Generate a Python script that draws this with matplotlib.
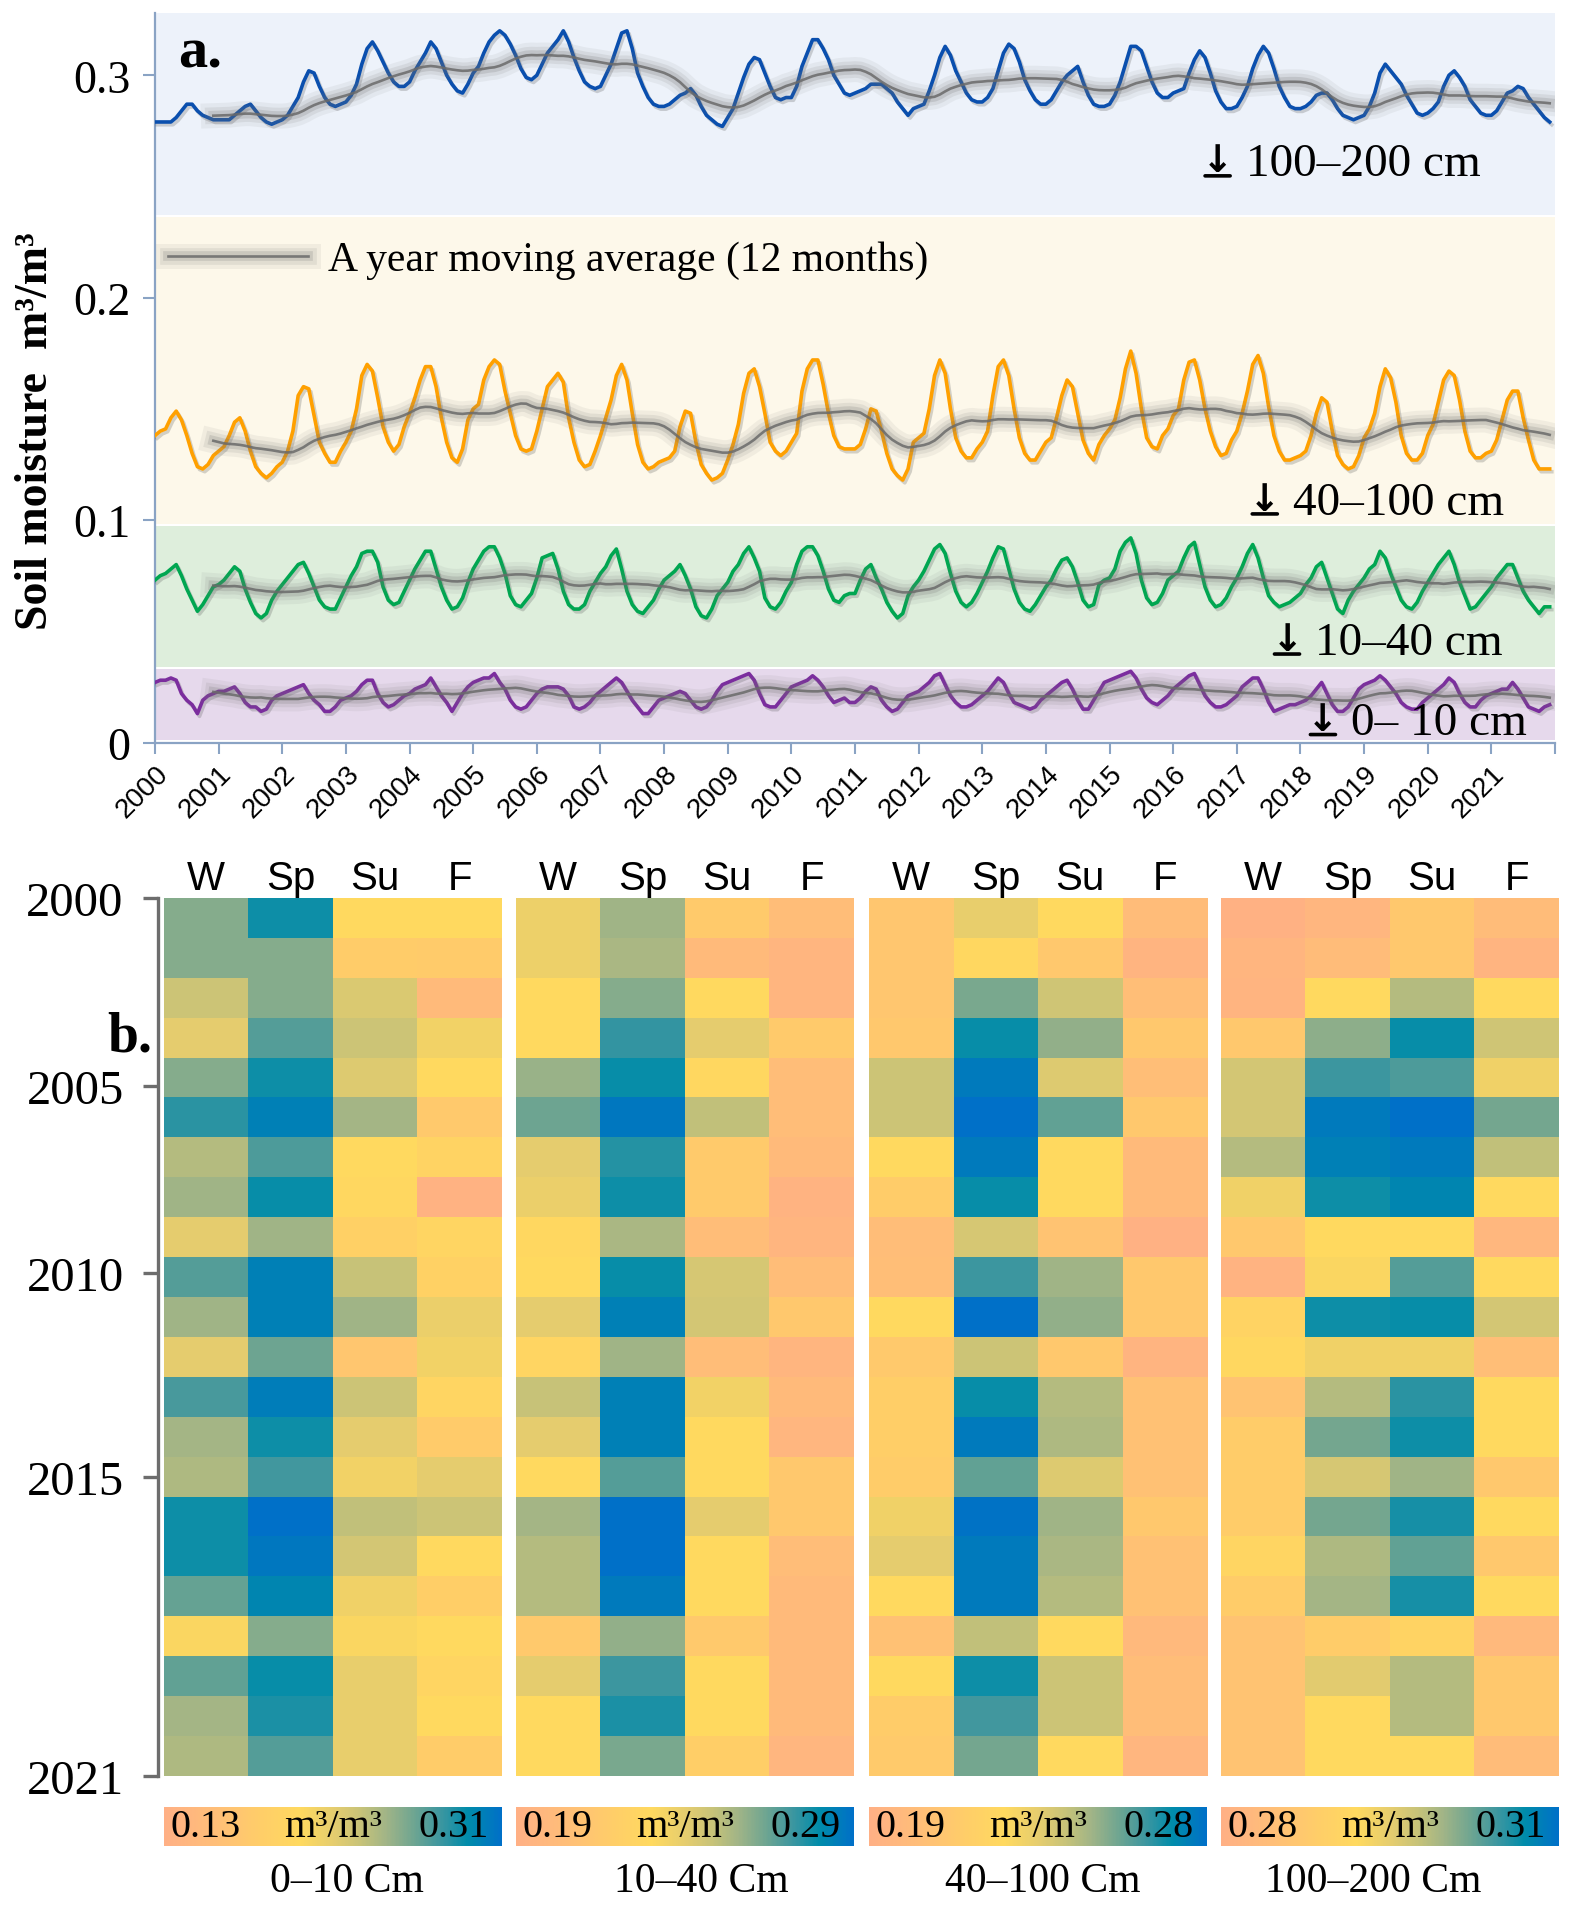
import numpy as np
import pandas as pd
import matplotlib
matplotlib.use("Agg")
import matplotlib.pyplot as plt
from matplotlib import patheffects as pe
from matplotlib.colors import LinearSegmentedColormap

# ---------------- data ----------------
years = list(range(2000, 2022))
seasons = ["W", "Sp", "Su", "F"]

# monthly soil moisture (m3/m3), Jan 2000 .. Dec 2021, one row per year
sm_100_200 = [
    .279, .279, .279, .279, .281, .284, .287, .287, .284, .282, .281, .280,
    .280, .280, .280, .282, .284, .286, .287, .284, .281, .279, .278, .279,
    .280, .282, .286, .290, .297, .302, .301, .295, .290, .287, .286, .287,
    .288, .291, .296, .305, .312, .315, .311, .306, .301, .297, .295, .295,
    .297, .302, .306, .310, .315, .312, .306, .300, .296, .293, .292, .296,
    .301, .304, .310, .315, .318, .320, .318, .314, .309, .303, .299, .298,
    .300, .305, .310, .313, .316, .320, .315, .308, .302, .297, .295, .294,
    .295, .300, .305, .312, .319, .320, .312, .301, .295, .290, .287, .286,
    .286, .287, .289, .291, .292, .294, .291, .286, .282, .280, .278, .277,
    .281, .285, .292, .299, .305, .308, .307, .301, .295, .290, .289, .290,
    .290, .295, .304, .310, .316, .316, .312, .307, .300, .296, .292, .291,
    .292, .293, .294, .296, .296, .296, .294, .292, .288, .285, .282, .285,
    .286, .287, .293, .300, .308, .313, .309, .302, .297, .292, .289, .288,
    .288, .290, .294, .302, .310, .314, .312, .306, .298, .293, .289, .287,
    .287, .289, .293, .297, .300, .302, .304, .297, .291, .287, .286, .286,
    .287, .291, .297, .305, .313, .313, .311, .304, .297, .292, .290, .290,
    .292, .293, .294, .301, .307, .311, .308, .301, .293, .288, .285, .285,
    .286, .290, .295, .303, .309, .313, .310, .303, .295, .290, .286, .285,
    .285, .286, .288, .291, .292, .292, .289, .285, .282, .281, .280, .281,
    .282, .286, .292, .301, .305, .302, .299, .296, .291, .287, .283, .282,
    .283, .285, .288, .295, .300, .302, .299, .295, .289, .286, .283, .282,
    .282, .284, .288, .292, .293, .295, .294, .290, .287, .284, .281, .279,
]

sm_40_100 = [
    .138, .140, .141, .146, .149, .145, .138, .130, .124, .123, .125, .129,
    .131, .133, .138, .144, .146, .140, .131, .124, .121, .119, .121, .124,
    .126, .131, .140, .156, .160, .159, .147, .135, .130, .126, .126, .131,
    .135, .140, .150, .165, .170, .167, .155, .142, .135, .131, .134, .142,
    .148, .155, .163, .169, .169, .160, .146, .135, .128, .126, .132, .145,
    .150, .152, .163, .169, .172, .170, .158, .148, .138, .132, .131, .132,
    .140, .150, .160, .163, .166, .162, .146, .135, .127, .124, .125, .131,
    .138, .146, .154, .165, .170, .163, .148, .134, .126, .123, .124, .126,
    .127, .128, .131, .142, .149, .148, .135, .125, .121, .118, .119, .121,
    .127, .134, .143, .157, .166, .168, .160, .148, .135, .131, .129, .131,
    .135, .139, .158, .168, .172, .172, .161, .148, .138, .133, .132, .132,
    .132, .134, .141, .150, .149, .140, .130, .123, .120, .118, .123, .135,
    .137, .139, .150, .165, .172, .166, .150, .137, .131, .128, .128, .132,
    .135, .140, .156, .169, .172, .165, .150, .137, .130, .127, .127, .131,
    .135, .137, .146, .156, .163, .160, .148, .136, .130, .127, .134, .138,
    .141, .145, .155, .168, .176, .166, .150, .137, .133, .132, .138, .141,
    .147, .150, .163, .171, .172, .163, .150, .140, .133, .129, .130, .136,
    .140, .148, .158, .170, .174, .166, .151, .138, .131, .127, .127, .128,
    .129, .131, .138, .148, .155, .153, .140, .129, .125, .123, .124, .129,
    .137, .141, .148, .160, .168, .164, .153, .138, .130, .127, .127, .130,
    .138, .143, .153, .163, .167, .165, .154, .140, .131, .128, .128, .130,
    .131, .136, .145, .154, .158, .158, .146, .136, .127, .123, .123, .123,
]

sm_10_40 = [
    .073, .075, .076, .078, .080, .075, .069, .064, .059, .062, .066, .070,
    .071, .073, .076, .079, .077, .069, .063, .058, .056, .058, .064, .068,
    .071, .074, .077, .080, .081, .076, .070, .064, .061, .060, .060, .065,
    .070, .075, .079, .085, .086, .086, .081, .070, .064, .062, .063, .068,
    .073, .078, .082, .086, .086, .078, .070, .064, .060, .061, .065, .072,
    .078, .082, .086, .088, .088, .083, .076, .066, .062, .061, .064, .067,
    .074, .083, .084, .085, .078, .068, .062, .060, .060, .062, .068, .072,
    .076, .079, .084, .087, .078, .068, .062, .059, .058, .061, .064, .069,
    .073, .075, .077, .080, .075, .069, .061, .057, .056, .060, .066, .069,
    .072, .077, .080, .085, .088, .083, .077, .065, .061, .060, .063, .068,
    .072, .080, .086, .088, .088, .084, .077, .069, .064, .063, .066, .067,
    .067, .073, .078, .080, .074, .069, .063, .059, .056, .058, .066, .070,
    .073, .077, .082, .087, .089, .085, .076, .068, .063, .061, .063, .067,
    .072, .077, .083, .088, .087, .078, .069, .063, .060, .059, .062, .066,
    .070, .073, .078, .082, .083, .079, .072, .064, .061, .062, .071, .073,
    .074, .078, .086, .090, .092, .085, .073, .065, .062, .063, .067, .073,
    .075, .077, .083, .088, .090, .080, .070, .064, .061, .062, .065, .070,
    .074, .079, .085, .089, .083, .074, .066, .063, .061, .062, .063, .065,
    .067, .071, .074, .079, .081, .074, .067, .060, .058, .064, .068, .071,
    .074, .078, .080, .086, .083, .076, .070, .064, .061, .060, .063, .068,
    .072, .076, .080, .083, .086, .080, .072, .066, .060, .061, .064, .067,
    .070, .074, .077, .080, .080, .074, .068, .064, .061, .058, .061, .061,
]

sm_0_10 = [
    .027, .028, .028, .029, .028, .022, .019, .017, .013, .019, .021, .022,
    .023, .023, .024, .025, .022, .018, .016, .016, .014, .015, .019, .021,
    .022, .023, .024, .025, .026, .022, .019, .017, .014, .014, .016, .019,
    .020, .021, .023, .026, .028, .028, .022, .018, .016, .017, .019, .021,
    .022, .024, .025, .026, .029, .025, .021, .018, .014, .018, .022, .025,
    .027, .028, .029, .029, .031, .027, .024, .019, .016, .015, .016, .019,
    .022, .024, .025, .025, .025, .024, .021, .016, .015, .016, .018, .021,
    .023, .025, .027, .029, .027, .023, .019, .016, .013, .013, .016, .019,
    .020, .021, .022, .023, .022, .019, .016, .015, .016, .019, .023, .026,
    .027, .028, .029, .030, .031, .028, .022, .017, .016, .016, .019, .022,
    .025, .026, .027, .028, .030, .028, .025, .021, .018, .019, .020, .018,
    .018, .020, .023, .025, .024, .019, .016, .014, .015, .018, .021, .022,
    .023, .025, .027, .030, .031, .026, .021, .018, .016, .016, .017, .019,
    .021, .023, .026, .029, .027, .022, .018, .017, .016, .015, .016, .019,
    .021, .023, .025, .027, .028, .024, .019, .015, .015, .019, .023, .027,
    .028, .029, .030, .031, .032, .029, .024, .020, .018, .017, .019, .021,
    .024, .026, .028, .030, .031, .026, .021, .018, .016, .016, .017, .019,
    .021, .025, .027, .029, .029, .024, .018, .014, .015, .016, .017, .017,
    .018, .019, .021, .024, .027, .022, .017, .014, .014, .016, .020, .024,
    .026, .027, .028, .030, .028, .025, .022, .018, .016, .015, .015, .018,
    .020, .022, .024, .026, .029, .027, .022, .018, .016, .016, .019, .021,
    .022, .023, .024, .024, .027, .024, .020, .016, .015, .014, .016, .017,
]

ytick_vals = [0.0, 0.1, 0.2, 0.3]
ytick_labels = ["0", "0.1", "0.2", "0.3"]
depth_labels = ["100\u2013200 cm", "40\u2013100 cm", "10\u201340 cm", "0\u2013 10 cm"]
legend_label = "A year moving average (12 months)"

# seasonal heat maps: relative level (0 = low end, 1 = high end of colour bar)
heat_0_10 = [
    [0.70, 0.88, 0.40, 0.40], [0.70, 0.70, 0.28, 0.27], [0.57, 0.70, 0.53, 0.12],
    [0.50, 0.78, 0.57, 0.45], [0.70, 0.88, 0.52, 0.40], [0.84, 0.94, 0.65, 0.25],
    [0.62, 0.79, 0.40, 0.35], [0.66, 0.89, 0.38, 0.03], [0.50, 0.66, 0.32, 0.36],
    [0.78, 0.94, 0.58, 0.33], [0.66, 0.94, 0.66, 0.48], [0.50, 0.74, 0.22, 0.45],
    [0.80, 0.95, 0.57, 0.36], [0.65, 0.88, 0.50, 0.27], [0.63, 0.81, 0.45, 0.50],
    [0.88, 1.00, 0.59, 0.57], [0.88, 0.97, 0.55, 0.40], [0.75, 0.92, 0.46, 0.30],
    [0.42, 0.70, 0.42, 0.40], [0.76, 0.89, 0.49, 0.36], [0.65, 0.86, 0.49, 0.40],
    [0.63, 0.78, 0.49, 0.28],
]
heat_10_40 = [
    [0.47, 0.66, 0.26, 0.15], [0.47, 0.64, 0.12, 0.06], [0.40, 0.70, 0.40, 0.06],
    [0.40, 0.83, 0.50, 0.26], [0.67, 0.89, 0.38, 0.15], [0.74, 0.97, 0.59, 0.15],
    [0.50, 0.85, 0.26, 0.12], [0.48, 0.88, 0.26, 0.04], [0.38, 0.64, 0.15, 0.06],
    [0.40, 0.89, 0.54, 0.15], [0.50, 0.94, 0.55, 0.24], [0.36, 0.66, 0.15, 0.06],
    [0.58, 0.94, 0.45, 0.12], [0.50, 0.94, 0.40, 0.07], [0.40, 0.78, 0.40, 0.24],
    [0.65, 1.00, 0.50, 0.24], [0.62, 1.00, 0.40, 0.15], [0.62, 0.96, 0.40, 0.12],
    [0.25, 0.68, 0.25, 0.12], [0.50, 0.82, 0.40, 0.12], [0.40, 0.86, 0.40, 0.12],
    [0.40, 0.72, 0.30, 0.07],
]
heat_40_100 = [
    [0.22, 0.49, 0.40, 0.14], [0.22, 0.38, 0.24, 0.05], [0.22, 0.72, 0.56, 0.16],
    [0.24, 0.89, 0.68, 0.24], [0.57, 0.96, 0.52, 0.16], [0.57, 1.00, 0.76, 0.24],
    [0.40, 0.96, 0.40, 0.12], [0.28, 0.89, 0.40, 0.12], [0.15, 0.54, 0.20, 0.02],
    [0.16, 0.82, 0.66, 0.24], [0.40, 1.00, 0.68, 0.24], [0.25, 0.57, 0.24, 0.05],
    [0.30, 0.89, 0.62, 0.18], [0.30, 0.96, 0.63, 0.18], [0.28, 0.76, 0.52, 0.18],
    [0.46, 0.99, 0.66, 0.24], [0.50, 0.96, 0.64, 0.18], [0.40, 0.96, 0.62, 0.18],
    [0.18, 0.59, 0.40, 0.10], [0.40, 0.88, 0.57, 0.15], [0.28, 0.81, 0.57, 0.15],
    [0.26, 0.73, 0.40, 0.07],
]
heat_100_200 = [
    [0.02, 0.07, 0.24, 0.13], [0.06, 0.13, 0.24, 0.05], [0.05, 0.40, 0.62, 0.40],
    [0.24, 0.69, 0.89, 0.56], [0.55, 0.82, 0.79, 0.46], [0.55, 0.96, 1.00, 0.73],
    [0.62, 0.94, 0.96, 0.59], [0.46, 0.88, 0.92, 0.40], [0.24, 0.40, 0.40, 0.08],
    [0.04, 0.42, 0.78, 0.40], [0.34, 0.88, 0.89, 0.55], [0.38, 0.46, 0.46, 0.16],
    [0.20, 0.62, 0.84, 0.40], [0.28, 0.73, 0.88, 0.40], [0.28, 0.54, 0.66, 0.24],
    [0.28, 0.73, 0.87, 0.40], [0.36, 0.63, 0.76, 0.24], [0.28, 0.65, 0.87, 0.40],
    [0.20, 0.28, 0.34, 0.10], [0.20, 0.51, 0.62, 0.24], [0.20, 0.40, 0.62, 0.24],
    [0.20, 0.40, 0.40, 0.14],
]
heat_ranges = [(0.13, 0.31), (0.19, 0.29), (0.19, 0.28), (0.28, 0.31)]
heat_titles = ["0\u201310 Cm", "10\u201340 Cm", "40\u2013100 Cm", "100\u2013200 Cm"]
heat_year_labels = ["2000", "2005", "2010", "2015", "2021"]
heat_year_pos = [0, 4.7, 9.4, 14.5, 22]

# ---------------- figure ----------------
W_PX, H_PX = 1573, 1906
fig = plt.figure(figsize=(W_PX / 100, H_PX / 100), dpi=100)


def fx(p):
    return p / W_PX


def fy(p):
    return 1 - p / H_PX


SERIF = "Liberation Serif"
SANS = "Liberation Sans"
SPINE = "#8aa3c4"

# ---- panel a: time series ----
ax = fig.add_axes([fx(155), fy(743.5), (1555 - 155) / W_PX, (743.5 - 14) / H_PX])
ax.set_xlim(2000, 2022)
ax.set_ylim(0, 0.328)
ax.patch.set_alpha(0)

bands = [(0.2372, 0.328, "#edf2fa"), (0.0982, 0.2365, "#fdf8ea"),
         (0.0340, 0.0975, "#deeedc"), (0.0013, 0.0332, "#e6d9ec")]
for lo, hi, c in bands:
    ax.axhspan(lo, hi, color=c, lw=0, zorder=0)

t = 2000 + np.arange(len(sm_0_10)) / 12.0
series = [(sm_100_200, "#0a4fae"), (sm_40_100, "#ffa000"),
          (sm_10_40, "#00a651"), (sm_0_10, "#7b2d9e")]

glow = [pe.Stroke(linewidth=18, foreground="#7a7a7a", alpha=0.09),
        pe.Stroke(linewidth=12, foreground="#7a7a7a", alpha=0.13),
        pe.Stroke(linewidth=7, foreground="#6a6a6a", alpha=0.19),
        pe.Normal()]
shadow = [pe.SimpleLineShadow(offset=(1.5, -2.0), shadow_color="#555555", alpha=0.25),
          pe.Normal()]
ma_handle = None
for vals, col in series:
    ax.plot(t, vals, color=col, lw=2.6, zorder=3, path_effects=shadow,
            solid_joinstyle="round")
    ma = pd.Series(vals).rolling(12).mean()
    ln, = ax.plot(t, ma, color="#6a6a6a", lw=1.9, alpha=0.85, zorder=4,
                  path_effects=glow)
    if ma_handle is None:
        ma_handle = ln

ax.set_yticks(ytick_vals)
ax.set_yticklabels(ytick_labels, fontfamily=SERIF, fontsize=33)
ax.tick_params(axis="y", direction="out", length=8.5, width=1.5, color=SPINE, pad=9)
ax.set_xticks(range(2000, 2023))
ax.set_xticklabels([str(y) for y in years] + [""], rotation=45, ha="right",
                   rotation_mode="anchor", fontfamily=SANS, fontsize=20)
ax.tick_params(axis="x", direction="out", length=8, width=1.5, color=SPINE, pad=5)
for s in ["top", "right"]:
    ax.spines[s].set_visible(False)
for s in ["left", "bottom"]:
    ax.spines[s].set_color(SPINE)
    ax.spines[s].set_linewidth(1.6)

# depth labels: down arrow with a bar under it, then the layer name
depth_pos = [(2020.83, 0.260), (2021.2, 0.108), (2021.18, 0.045), (2021.56, 0.0088)]
for (xx, yy), lab in zip(depth_pos, depth_labels):
    txt = ax.text(xx, yy, lab, ha="right", va="center", fontfamily=SERIF,
                  fontsize=34, zorder=6)
    arr = ax.annotate("\u2193", xy=(0, 0.5), xycoords=txt, xytext=(-9, 2),
                      textcoords="offset points", ha="right", va="center",
                      fontfamily="DejaVu Sans", fontsize=27,
                      fontweight="bold", zorder=6)
    ax.annotate("", xy=(0.9, 0.1), xycoords=arr, xytext=(0.1, 0.1),
                textcoords=arr, arrowprops=dict(arrowstyle="-", lw=2.6, color="black",
                                                shrinkA=0, shrinkB=0), zorder=6)

ax.legend([ma_handle], [legend_label], loc="center left",
          bbox_to_anchor=(fx(168), fy(261)), bbox_transform=fig.transFigure,
          frameon=False, prop=dict(family=SERIF, size=30), handlelength=3.35,
          handletextpad=0.5, borderpad=0, borderaxespad=0)

fig.text(fx(36), fy(431), "Soil moisture  m\u00b3/m\u00b3", rotation=90, ha="center",
         va="center", fontfamily=SERIF, fontweight="bold", fontsize=33)
fig.text(fx(178), fy(67), "a.", ha="left", va="baseline", fontfamily=SERIF,
         fontweight="bold", fontsize=42)

# ---- panel b: seasonal heat maps ----
cmap_nodes = [(0.00, "#ffb085"), (0.15, "#ffbe78"), (0.28, "#ffcd69"),
              (0.40, "#ffd95f"), (0.50, "#e6cd6e"), (0.58, "#c8c378"),
              (0.66, "#a0b487"), (0.74, "#6ea591"), (0.82, "#3c96a0"),
              (0.90, "#008caa"), (1.00, "#0070c8")]
cmap = LinearSegmentedColormap.from_list("sm", cmap_nodes)

panel_left = [164, 516, 869, 1221]
panel_w = 338
heat_top, heat_bot = 899, 1777
cb_top, cb_bot = 1808, 1847
heats = [heat_0_10, heat_10_40, heat_40_100, heat_100_200]
title_x = [286, 578, 860, 1132]

for i, (lev, (vmin, vmax), title) in enumerate(zip(heats, heat_ranges, heat_titles)):
    axh = fig.add_axes([fx(panel_left[i]), fy(heat_bot), panel_w / W_PX,
                        (heat_bot - heat_top) / H_PX])
    vals = vmin + np.array(lev) * (vmax - vmin)
    im = axh.imshow(vals, cmap=cmap, vmin=vmin, vmax=vmax, aspect="auto",
                    interpolation="nearest", extent=(0, 4, 22, 0))
    axh.xaxis.tick_top()
    axh.set_xticks([0.5, 1.5, 2.5, 3.5])
    axh.set_xticklabels(seasons, fontfamily=SANS, fontsize=29)
    axh.tick_params(axis="x", length=0, pad=1)
    for s in ["top", "right", "bottom"]:
        axh.spines[s].set_visible(False)
    if i == 0:
        axh.spines["left"].set_position(("outward", 4))
        axh.spines["left"].set_color("#6d6d6d")
        axh.spines["left"].set_linewidth(2.4)
        axh.set_yticks(heat_year_pos)
        axh.set_yticklabels(heat_year_labels, fontfamily=SERIF, fontsize=35)
        axh.tick_params(axis="y", direction="out", length=11, width=2.4,
                        color="#6d6d6d", pad=14)
    else:
        axh.spines["left"].set_visible(False)
        axh.set_yticks([])

    cax = fig.add_axes([fx(panel_left[i]), fy(cb_bot), panel_w / W_PX,
                        (cb_bot - cb_top) / H_PX])
    cb = fig.colorbar(im, cax=cax, orientation="horizontal")
    cb.outline.set_visible(False)
    cax.set_xticks([])
    cax.text(0.02, 0.5, f"{vmin:.2f}", transform=cax.transAxes, ha="left",
             va="center", fontfamily=SERIF, fontsize=29)
    cax.text(0.5, 0.5, "m\u00b3/m\u00b3", transform=cax.transAxes, ha="center",
             va="center", fontfamily=SERIF, fontsize=29)
    cax.text(0.96, 0.5, f"{vmax:.2f}", transform=cax.transAxes, ha="right",
             va="center", fontfamily=SERIF, fontsize=29)
    fig.text(fx(title_x[i] * 1.213), fy(1882), title, ha="center",
             va="center", fontfamily=SERIF, fontsize=30)

fig.text(fx(107), fy(1052), "b.", ha="left", va="baseline", fontfamily=SERIF,
         fontweight="bold", fontsize=40)

fig.savefig("out.png", dpi=100)
